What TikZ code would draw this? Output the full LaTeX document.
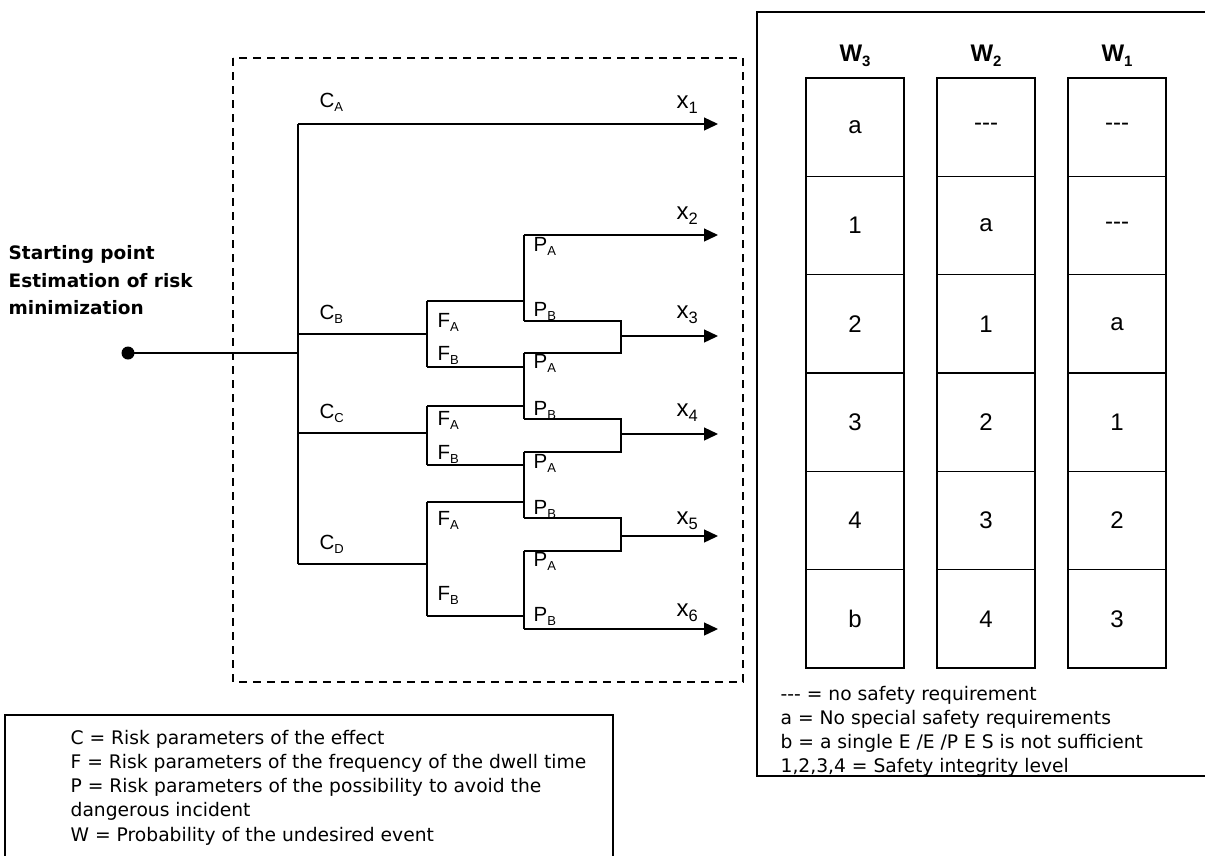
\documentclass[tikz,border=0pt]{standalone}
\usepackage{fontspec}
\setmainfont{Liberation Sans}
\newfontfamily\verd{DejaVu Sans}
\usetikzlibrary{arrows.meta}
\newcommand{\sbx}[3]{#1\raisebox{-0.45ex}{\fontsize{#3}{#3}\selectfont #2}}
\begin{document}
\begin{tikzpicture}[x=1pt,y=-1pt, line width=1.3pt,
 lbl/.style={anchor=base west, inner sep=0pt, font=\fontsize{20.5}{20.5}\selectfont},
 xl/.style={anchor=base west, inner sep=0pt, font=\fontsize{24}{24}\selectfont},
 arr/.style={-{Triangle[length=14pt,width=13pt]}},
 cell/.style={draw, minimum width=98pt, minimum height=98.33pt, inner sep=0pt, font=\fontsize{24}{24}\selectfont, line width=1.1pt},
 hdr/.style={anchor=base, inner sep=0pt, font=\bfseries\fontsize{24}{24}\selectfont},
 legend/.style={anchor=base west, inner sep=0pt, font=\verd\fontsize{18.7}{18.7}\selectfont},
 startlbl/.style={anchor=base west, inner sep=0pt, font=\verd\bfseries\fontsize{18.5}{18.5}\selectfont},
]
\useasboundingbox (0,0) rectangle (1205,855);
% frames
\draw[dashed, dash pattern=on 8pt off 6pt] (233,58) rectangle (743,682);
\draw (1210,12) -- (757,12) -- (757,776) -- (1210,776);
\draw (5,860) -- (5,715) -- (613,715) -- (613,860);

% starting point
\node[startlbl] (sp1) at (8,259) {Starting point};
\node[startlbl] (sp2) at (8,287) {Estimation of risk};
\node[startlbl] (sp3) at (8,314) {minimization};
\fill (128,353) circle (6.5pt);
\coordinate (start) at (128,353);
\coordinate (t0) at (298,353);
\coordinate (tA) at (298,124);
\coordinate (tB) at (298,334);
\coordinate (tC) at (298,433);
\coordinate (tD) at (298,564);
\draw (start) -- (t0);
\draw (tA) -- (tD);

% F forks
\coordinate (fB) at (427,334); \coordinate (fBa) at (427,301); \coordinate (fBb) at (427,367);
\coordinate (fC) at (427,433); \coordinate (fCa) at (427,406); \coordinate (fCb) at (427,465);
\coordinate (fD) at (427,564); \coordinate (fDa) at (427,502); \coordinate (fDb) at (427,616);
\draw (tB) -- (fB); \draw (fBa) -- (fBb);
\draw (tC) -- (fC); \draw (fCa) -- (fCb);
\draw (tD) -- (fD); \draw (fDa) -- (fDb);

% P forks
\coordinate (p1a) at (524,235); \coordinate (p1b) at (524,321); \coordinate (p1f) at (524,301);
\coordinate (p2a) at (524,353); \coordinate (p2b) at (524,419);
\coordinate (p3a) at (524,452); \coordinate (p3b) at (524,518);
\coordinate (p4a) at (524,551); \coordinate (p4b) at (524,629); \coordinate (p4f) at (524,616);
\draw (fBa) -- (p1f); \draw (p1a) -- (p1b);
\draw (fBb) -- (524,367); \draw (fCa) -- (524,406); \draw (p2a) -- (p2b);
\draw (fCb) -- (524,465); \draw (fDa) -- (524,502); \draw (p3a) -- (p3b);
\draw (fDb) -- (p4f); \draw (p4a) -- (p4b);

% merges
\coordinate (m3a) at (621,321); \coordinate (m3b) at (621,353); \coordinate (m3) at (621,336);
\coordinate (m4a) at (621,419); \coordinate (m4b) at (621,452); \coordinate (m4) at (621,434);
\coordinate (m5a) at (621,518); \coordinate (m5b) at (621,551); \coordinate (m5) at (621,536);
\draw (p1b) -- (m3a) -- (m3b) -- (p2a);
\draw (p2b) -- (m4a) -- (m4b) -- (p3a);
\draw (p3b) -- (m5a) -- (m5b) -- (p4a);

% outcomes
\coordinate (x1) at (718,124); \coordinate (x2) at (718,235); \coordinate (x3) at (718,336);
\coordinate (x4) at (718,434); \coordinate (x5) at (718,536); \coordinate (x6) at (718,629);
\draw[arr] (tA) -- (x1);
\draw[arr] (p1a) -- (x2);
\draw[arr] (m3) -- (x3);
\draw[arr] (m4) -- (x4);
\draw[arr] (m5) -- (x5);
\draw[arr] (p4b) -- (x6);

% labels
\node[lbl] (cA) at (319,107) {\sbx{C}{A}{13}};
\node[lbl] (cB) at (319,319) {\sbx{C}{B}{13}};
\node[lbl] (cC) at (319,418) {\sbx{C}{C}{13}};
\node[lbl] (cD) at (319,549) {\sbx{C}{D}{13}};
\node[lbl] (fa1) at (437,327) {\sbx{F}{A}{13}};
\node[lbl] (fb1) at (437,360) {\sbx{F}{B}{13}};
\node[lbl] (fa2) at (437,425) {\sbx{F}{A}{13}};
\node[lbl] (fb2) at (437,459) {\sbx{F}{B}{13}};
\node[lbl] (fa3) at (437,525) {\sbx{F}{A}{13}};
\node[lbl] (fb3) at (437,600) {\sbx{F}{B}{13}};
\node[lbl] (pa1) at (533,251) {\sbx{P}{A}{13}};
\node[lbl] (pb1) at (533,316) {\sbx{P}{B}{13}};
\node[lbl] (pa2) at (533,368) {\sbx{P}{A}{13}};
\node[lbl] (pb2) at (533,415) {\sbx{P}{B}{13}};
\node[lbl] (pa3) at (533,468) {\sbx{P}{A}{13}};
\node[lbl] (pb3) at (533,514) {\sbx{P}{B}{13}};
\node[lbl] (pa4) at (533,566) {\sbx{P}{A}{13}};
\node[lbl] (pb4) at (533,621) {\sbx{P}{B}{13}};
\node[xl] (lx1) at (676,108) {\sbx{x}{1}{16.5}};
\node[xl] (lx2) at (676,219) {\sbx{x}{2}{16.5}};
\node[xl] (lx3) at (676,318) {\sbx{x}{3}{16.5}};
\node[xl] (lx4) at (676,416) {\sbx{x}{4}{16.5}};
\node[xl] (lx5) at (676,524) {\sbx{x}{5}{16.5}};
\node[xl] (lx6) at (676,616) {\sbx{x}{6}{16.5}};

% table
\node[hdr] (w3) at (855,61) {\sbx{W}{3}{15}};
\node[hdr] (w2) at (986,61) {\sbx{W}{2}{15}};
\node[hdr] (w1) at (1117,61) {\sbx{W}{1}{15}};
\foreach \i/\a/\b/\c in {0/a/-{}-{}-/-{}-{}-, 1/1/a/-{}-{}-, 2/2/1/a, 3/3/2/1, 4/4/3/2, 5/b/4/3}{
  \node[cell] (c3\i) at (855,{78+98.33*(\i+0.5)}) {\a};
  \node[cell] (c2\i) at (986,{78+98.33*(\i+0.5)}) {\b};
  \node[cell] (c1\i) at (1117,{78+98.33*(\i+0.5)}) {\c};
}

% legends
\node[legend] (r1) at (780,700) {-{}-{}- = no safety requirement};
\node[legend] (r2) at (780,724) {a = No special safety requirements};
\node[legend] (r3) at (780,748) {b = a single E /E /P E S is not sufficient};
\node[legend] (r4) at (780,772) {1,2,3,4 = Safety integrity level};

\node[legend] (l1) at (70,744) {C = Risk parameters of the effect};
\node[legend] (l2) at (70,768) {F = Risk parameters of the frequency of the dwell time};
\node[legend] (l3) at (70,792) {P = Risk parameters of the possibility to avoid the};
\node[legend] (l4) at (70,816) {dangerous incident};
\node[legend] (l5) at (70,841) {W = Probability of the undesired event};
\end{tikzpicture}
\end{document}
